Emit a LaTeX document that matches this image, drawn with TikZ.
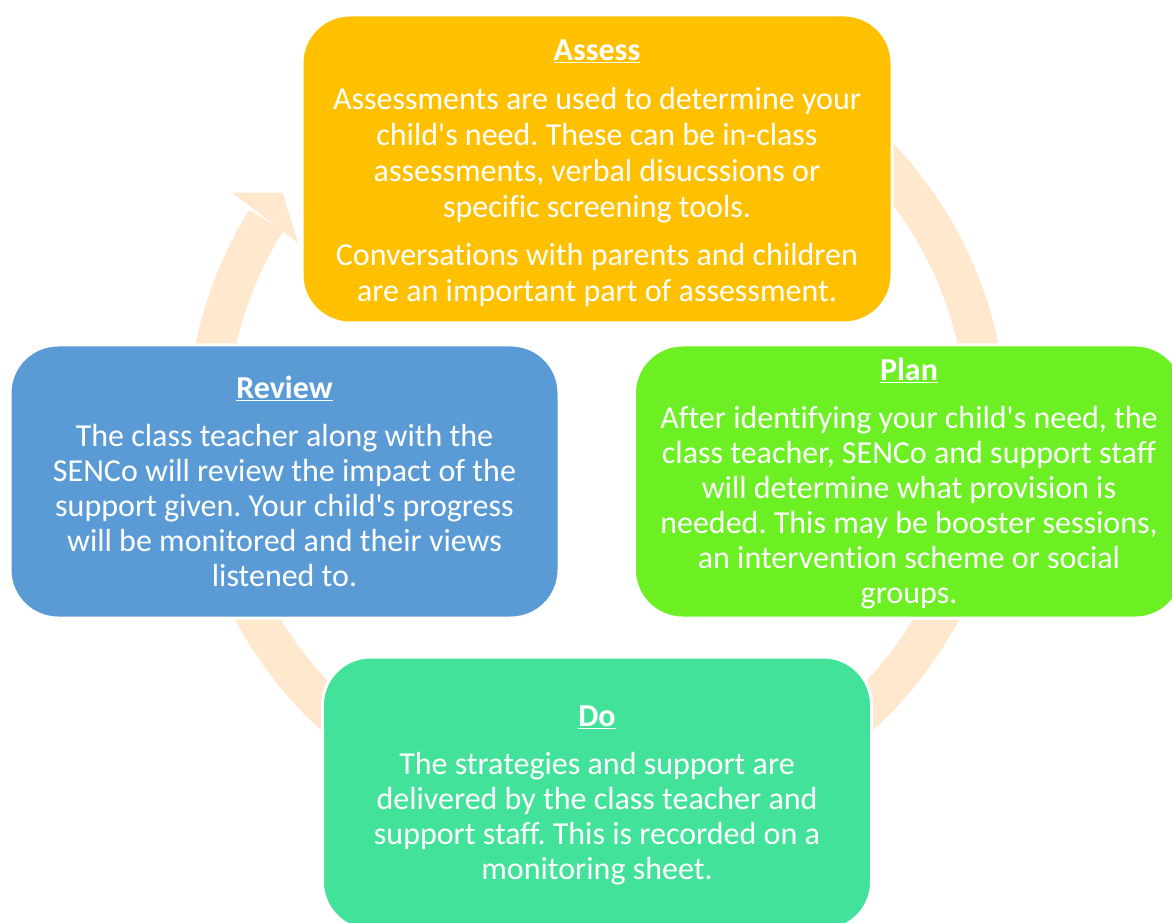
\documentclass[tikz,border=0pt]{standalone}
\usepackage{fontspec}
\setmainfont{Carlito}[Ligatures={TeXOff,NoCommon}]
\usepackage{xcolor}
\usetikzlibrary{positioning}
\definecolor{SEN-ASSESS}{RGB}{255,192,0}
\definecolor{SEN-PLAN}{RGB}{108,240,35}
\definecolor{SEN-DO}{RGB}{66,226,154}
\definecolor{SEN-REVIEW}{RGB}{91,155,213}
\definecolor{SEN-RING}{RGB}{255,232,206}
\frenchspacing
\newcommand{\stagehead}[2]{\rule{0pt}{#1}\textbf{\underline{#2}}}

\begin{document}
\begin{tikzpicture}[x=1pt,y=1pt,
		every node/.style={text=white,font=\fontsize{32}{35}\selectfont},
		stage/.style={draw=white,line width=3,rounded corners=48,align=center,inner sep=0,minimum width=549,minimum height=273}]
			\clip (0,0) rectangle (1172,922);

			% draw ring
			\coordinate (c) at (597,495);
			\fill[SEN-RING] ([shift={(70:410)}]c) arc[start angle=70,end angle=-212,radius=410]
				-- ([shift={(148:370)}]c) arc[start angle=-212,end angle=70,radius=370] -- cycle;
			\fill[SEN-RING] ([shift={(147.3:434)}]c) -- ([shift={(143.3:392)}]c) -- ([shift={(148.4:351)}]c) -- cycle;

			% draw stages
			\node (assess) at (597,753) [stage,fill=SEN-ASSESS,minimum width=590,minimum height=308,font=\fontsize{32}{36}\selectfont]
				{\stagehead{29pt}{Assess}\\[13pt]
				Assessments are used to determine your\\ child's need. These can be in-class\\
				assessments, verbal disucssions or\\ specific screening tools.\\[12pt]
				Conversations with parents and children\\ are an important part of assessment.};
			\node (plan) at (909,440.5) [stage,fill=SEN-PLAN]
				{\stagehead{27pt}{Plan}\\[13pt]
				After identifying your child's need, the\\ class teacher, SENCo and support staff\\
				will determine what provision is\\ needed. This may be booster sessions,\\
				an intervention scheme or social\\ groups.};
			\node (do) at (597,128.5) [stage,fill=SEN-DO]
				{\stagehead{25pt}{Do}\\[13pt]
				The strategies and support are\\ delivered by the class teacher and\\
				support staff. This is recorded on a\\ monitoring sheet.};
			\node (review) at (284.5,440.5) [stage,fill=SEN-REVIEW]
				{\stagehead{22pt}{Review}\\[13pt]
				The class teacher along with the\\ SENCo will review the impact of the\\
				support given. Your child's progress\\ will be monitored and their views\\
				listened to.};
		\end{tikzpicture}
\end{document}
